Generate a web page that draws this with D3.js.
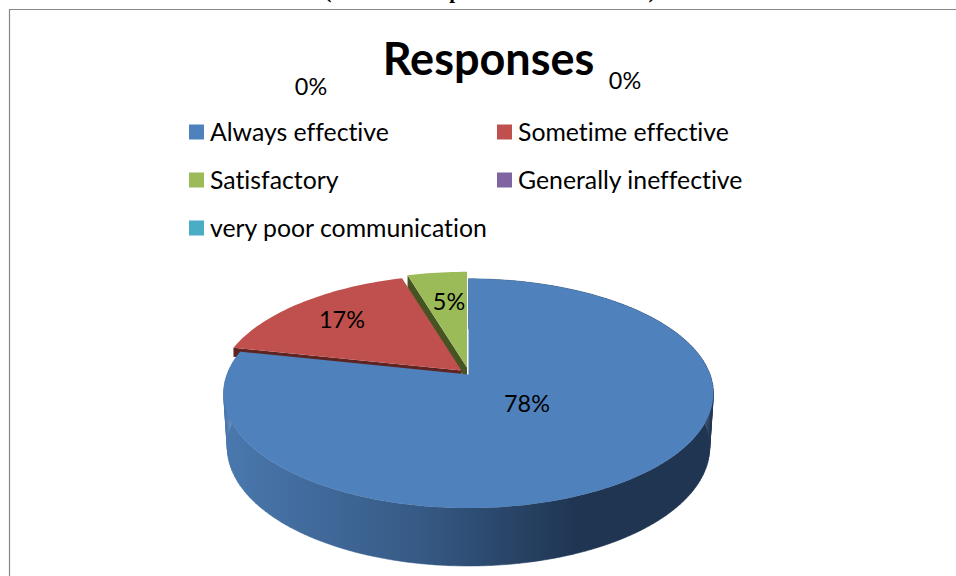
<!DOCTYPE html>
<meta charset="utf-8">
<html>
<head>
<title>Responses</title>
<style>
  html, body { margin: 0; padding: 0; background: #fff; overflow: hidden; }
  text { font-family: Lato, "Open Sans", sans-serif; fill: #000; font-variant-ligatures: none; }
</style>
</head>
<body>
<div id="chart"></div>
<script src="https://d3js.org/d3.v7.min.js"></script>
<script>

var categories = ["Always effective", "Sometime effective", "Satisfactory", "Generally ineffective", "very poor communication"];
var values = [78.4, 17, 4.6, 0, 0];
var labels = ["78%", "17%", "5%", "0%", "0%"];
var colors = ["#4f81bd", "#c0504d", "#9bbb59", "#8064a2", "#4bacc6"];
var wallColors = [null, "#5e2422", "#465423", null, null];

var width = 956, height = 576;

var svg = d3.select("#chart").append("svg")
    .attr("width", width)
    .attr("height", height);

// only the bottoms of these heading glyphs survive the crop
var headingBits = ["(", "p", ")"];
var headingX = [328, 455, 652];
svg.append("g").selectAll("text")
    .data(headingBits)
    .enter().append("text")
    .attr("x", function(d, i) { return headingX[i]; })
    .attr("y", -2)
    .attr("text-anchor", "middle")
    .style("font-family", "'Liberation Serif', serif")
    .style("font-weight", "bold")
    .style("font-size", "21px")
    .text(function(d) { return d; });

svg.append("path")
    .attr("d", "M956,9.5H9.5V576")
    .attr("fill", "none")
    .attr("stroke", "#868686")
    .attr("stroke-width", 1.2);

svg.append("text")
    .attr("x", 488.5).attr("y", 75)
    .attr("text-anchor", "middle")
    .style("font-weight", "bold")
    .style("font-size", "45px")
    .text("Responses");

// legend
var legendX = d3.scaleOrdinal().domain([0, 1]).range([189, 497]);
var legendY = d3.scaleOrdinal().domain([0, 1, 2]).range([132, 180, 228]);

var legend = svg.append("g").selectAll("g")
    .data(categories)
    .enter().append("g")
    .attr("transform", function(d, i) {
      return "translate(" + legendX(i % 2) + "," + legendY(Math.floor(i / 2)) + ")";
    });
legend.append("rect")
    .attr("x", 0).attr("y", -7.5)
    .attr("width", 15).attr("height", 15)
    .attr("fill", function(d, i) { return colors[i]; });
legend.append("text")
    .attr("x", 21).attr("y", 8.5)
    .style("font-size", "24.8px")
    .text(function(d) { return d; });

// pie in perspective: angle from d3.pie, then projected on the tilted disc
var pie = d3.pie().sort(null).value(function(d) { return d; });
var slices = pie(values);

var cx = 468.5, cy = 374.5, b = 241.5, a = 111.5, k = 0.165;

function project(t, r, dx, dy) {
  var X = r * Math.sin(t), Y = -r * Math.cos(t), w = 1 - k * Y;
  return [cx + dx + b * X / w, cy + dy + a * Y / w];
}

function ring(s, dx, dy) {
  var n = Math.max(2, Math.ceil((s.endAngle - s.startAngle) * 40));
  return d3.range(n + 1).map(function(i) {
    return project(s.startAngle + (s.endAngle - s.startAngle) * i / n, 1, dx, dy);
  });
}

var line = d3.line();
var defs = svg.append("defs");

var grad = defs.append("linearGradient")
    .attr("id", "wall")
    .attr("gradientUnits", "userSpaceOnUse")
    .attr("x1", 223).attr("x2", 714).attr("y1", 0).attr("y2", 0);
grad.append("stop").attr("offset", "0").attr("stop-color", "#4a78ae");
grad.append("stop").attr("offset", "0.4").attr("stop-color", "#365a85");
grad.append("stop").attr("offset", "0.72").attr("stop-color", "#1f3552");
grad.append("stop").attr("offset", "1").attr("stop-color", "#1f3552");

// exploded slices sit behind the big one, green first
var offsets = [[0, 0], [-7, -4], [-1.5, -7]];
var innerDepth = [0, 9, 14];

[2, 1].forEach(function(i) {
  var s = slices[i], o = offsets[i], d = innerDepth[i];
  var apex = [cx + o[0], cy + o[1]];
  var p0 = project(s.startAngle, 1, o[0], o[1]);
  svg.append("path")
      .attr("d", line([p0, apex, [apex[0], apex[1] + d], [p0[0], p0[1] + d]]) + "Z")
      .attr("fill", wallColors[i]);
  svg.append("path")
      .attr("d", line([apex].concat(ring(s, o[0], o[1]))) + "Z")
      .attr("fill", colors[i]);
});

// outer wall of the blue slice
var blue = slices[0];
var topRing = ring(blue, 0, 0);
var depth = 58;
var wallPath = "";
topRing.forEach(function(p, i) {
  if (i == 0) return;
  var q = topRing[i - 1];
  var f0 = (q[1] - cy + 100) / 234, f1 = (p[1] - cy + 100) / 234;
  wallPath += line([q, p,
    [cx + (p[0] - cx) * 0.985, p[1] + depth * (0.86 + 0.14 * f1)],
    [cx + (q[0] - cx) * 0.985, q[1] + depth * (0.86 + 0.14 * f0)]]) + "Z";
});
svg.append("path")
    .attr("d", wallPath)
    .attr("fill", "url(#wall)")
    .attr("stroke", "url(#wall)")
    .attr("stroke-width", 0.5);

svg.append("path")
    .attr("d", line([[cx, cy]].concat(topRing)) + "Z")
    .attr("fill", colors[0]);

// data labels
var labelX = [527, 342, 449, 311, 625];
var labelY = [404, 320, 302, 87, 81];
svg.append("g").selectAll("text")
    .data(labels)
    .enter().append("text")
    .attr("x", function(d, i) { return labelX[i]; })
    .attr("y", function(d, i) { return labelY[i]; })
    .attr("dy", "0.35em")
    .attr("text-anchor", "middle")
    .style("font-size", "23.4px")
    .text(function(d) { return d; });

</script>
</body>
</html>
